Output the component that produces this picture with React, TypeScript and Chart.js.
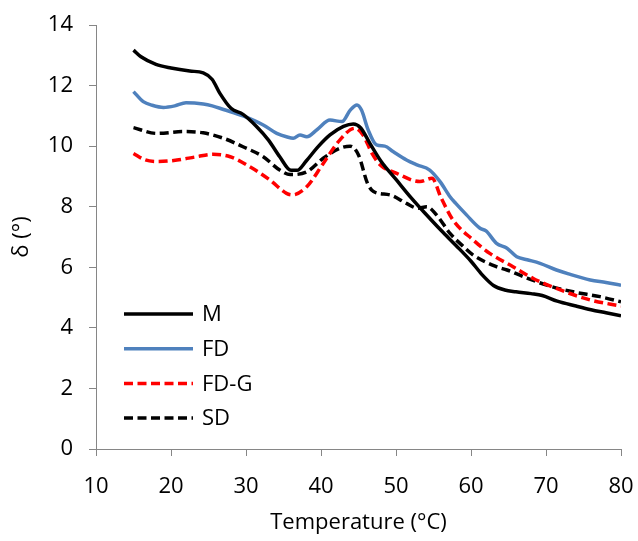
import React, { useEffect, useRef } from "react";
import { Chart, registerables } from "chart.js";

Chart.register(...registerables);

const xTicks = [10, 20, 30, 40, 50, 60, 70, 80];
const yTicks = [0, 2, 4, 6, 8, 10, 12, 14];

const seriesNames = ["M", "FD", "FD-G", "SD"];

const mTemp = [15, 16, 18, 20, 22.5, 24.3, 25.5, 26.5, 28, 29.6, 31.4, 33, 34.5, 36, 36.8, 38, 39.5, 41.2, 43, 44.3, 45.3, 46.5, 48, 50, 52, 54, 56, 58, 60, 61.5, 63, 64.5, 66, 68, 69.5, 71.5, 74, 76, 78, 80];
const mDelta = [13.17, 12.95, 12.7, 12.58, 12.48, 12.42, 12.2, 11.75, 11.25, 11.05, 10.65, 10.2, 9.65, 9.2, 9.2, 9.5, 9.95, 10.37, 10.65, 10.73, 10.6, 10.1, 9.5, 8.9, 8.3, 7.75, 7.22, 6.72, 6.2, 5.75, 5.4, 5.25, 5.19, 5.13, 5.07, 4.88, 4.72, 4.6, 4.5, 4.4];

const fdTemp = [15, 16.3, 17.5, 19, 20.5, 22, 24.3, 25.5, 27, 29.6, 32.3, 34.1, 35.5, 36.3, 37.2, 38.1, 39.5, 41.2, 42.8, 43.9, 44.8, 45.4, 46.3, 47.4, 48.5, 49.6, 51.4, 52.8, 54.5, 55.9, 57.2, 58, 59.4, 61.2, 62, 63.4, 64.8, 66.1, 67.5, 69.2, 71.4, 73, 75.9, 78, 80];
const fdDelta = [11.8, 11.47, 11.35, 11.28, 11.33, 11.43, 11.39, 11.33, 11.21, 11.0, 10.7, 10.42, 10.3, 10.26, 10.37, 10.31, 10.55, 10.86, 10.81, 11.19, 11.36, 11.19, 10.53, 10.04, 10.0, 9.82, 9.54, 9.38, 9.21, 8.82, 8.33, 8.1, 7.73, 7.29, 7.2, 6.79, 6.63, 6.35, 6.25, 6.13, 5.91, 5.78, 5.58, 5.5, 5.41];

const fdgTemp = [15, 16.5, 18.1, 20.8, 23.4, 25.6, 27.9, 30.5, 33.2, 35.4, 36.2, 38.1, 40.3, 42.5, 44.5, 45.6, 46.8, 47.9, 50.1, 53.2, 54.8, 56, 57.6, 60.3, 62.5, 65.6, 68.3, 71.4, 75.9, 80];
const fdgDelta = [9.76, 9.55, 9.49, 9.54, 9.65, 9.73, 9.65, 9.32, 8.88, 8.44, 8.39, 8.66, 9.43, 10.2, 10.59, 10.37, 9.76, 9.38, 9.1, 8.83, 8.94, 8.3, 7.56, 6.9, 6.46, 6.02, 5.63, 5.3, 4.92, 4.72];

const sdTemp = [15, 18.1, 21.6, 24.3, 27, 29.6, 32.3, 34.5, 35.9, 38.1, 40.3, 42.5, 43.9, 45, 46.2, 47, 49.2, 51.4, 52.9, 54.1, 55.4, 57.2, 59, 60.3, 63.4, 64.8, 67, 70.1, 73.6, 77.2, 80];
const sdDelta = [10.61, 10.42, 10.48, 10.44, 10.26, 9.98, 9.65, 9.21, 9.06, 9.15, 9.6, 9.93, 10.0, 9.71, 8.77, 8.5, 8.39, 8.11, 7.95, 8.0, 7.73, 7.12, 6.68, 6.4, 6.02, 5.91, 5.69, 5.41, 5.19, 5.03, 4.86];

const FONT = "'Open Sans', 'Noto Sans', sans-serif";
const FONT_SIZE = 22;
const AXIS_GRAY = "#868686";

const toPoints = (xs: number[], ys: number[]) => xs.map((x, i) => ({ x, y: ys[i] }));

const legendPlugin = {
  id: "insideLegend",
  afterDraw(chart: any) {
    const { ctx, chartArea } = chart;
    ctx.save();
    const x0 = chartArea.left + 28;
    const x1 = chartArea.left + 97;
    const yStart = chartArea.bottom - 135;
    const step = 34.7;
    chart.data.datasets.forEach((ds: any, i: number) => {
      const y = yStart + i * step;
      ctx.beginPath();
      ctx.strokeStyle = ds.borderColor;
      ctx.lineWidth = ds.borderWidth;
      ctx.setLineDash(ds.borderDash || []);
      ctx.lineCap = "butt";
      ctx.moveTo(x0, y);
      ctx.lineTo(x1, y);
      ctx.stroke();
      ctx.setLineDash([]);
      ctx.fillStyle = "#000";
      ctx.font = `${FONT_SIZE}px ${FONT}`;
      ctx.textBaseline = "middle";
      ctx.textAlign = "left";
      ctx.fillText(ds.label, x1 + 9, y + 1);
    });
    ctx.restore();
  },
};

export default function App() {
  const ref = useRef<HTMLCanvasElement | null>(null);
  useEffect(() => {
    document.body.style.margin = "0";
    if (!ref.current) return;
    const dashed = [9, 4.5];
    const chart = new Chart(ref.current, {
      type: "line",
      data: {
        datasets: [
          { label: seriesNames[0], data: toPoints(mTemp, mDelta), borderColor: "#000000", borderWidth: 3.5 },
          { label: seriesNames[1], data: toPoints(fdTemp, fdDelta), borderColor: "#4F81BD", borderWidth: 3.5 },
          { label: seriesNames[2], data: toPoints(fdgTemp, fdgDelta), borderColor: "#FF0000", borderWidth: 3.5, borderDash: dashed },
          { label: seriesNames[3], data: toPoints(sdTemp, sdDelta), borderColor: "#000000", borderWidth: 3.5, borderDash: dashed },
        ].map((d) => ({ ...d, pointRadius: 0, fill: false, cubicInterpolationMode: "monotone" as const, borderCapStyle: "butt" as const })),
      },
      options: {
        responsive: false,
        animation: false,
        layout: { padding: { top: 25, right: 17, left: 0, bottom: 0 } },
        plugins: { legend: { display: false }, tooltip: { enabled: false } },
        scales: {
          x: {
            type: "linear",
            min: xTicks[0],
            max: xTicks[xTicks.length - 1],
            afterBuildTicks: (s: any) => { s.ticks = xTicks.map((v) => ({ value: v })); },
            afterFit: (s: any) => { s.height = 92; s.paddingLeft = 0; s.paddingRight = 0; },
            grid: { drawOnChartArea: false, drawTicks: true, tickLength: 7, color: AXIS_GRAY, lineWidth: 1 },
            border: { display: true, color: AXIS_GRAY, width: 1 },
            ticks: { color: "#000", font: { family: FONT, size: FONT_SIZE }, padding: 18, maxRotation: 0 },
            title: { display: true, text: "Temperature (°C)", color: "#000", font: { family: FONT, size: FONT_SIZE }, padding: { top: 0, bottom: 5 } },
          },
          y: {
            type: "linear",
            min: yTicks[0],
            max: yTicks[yTicks.length - 1],
            afterBuildTicks: (s: any) => { s.ticks = yTicks.map((v) => ({ value: v })); },
            afterFit: (s: any) => { s.width = 96; s.paddingTop = 0; s.paddingBottom = 0; },
            grid: { drawOnChartArea: false, drawTicks: true, tickLength: 7, color: AXIS_GRAY, lineWidth: 1 },
            border: { display: true, color: AXIS_GRAY, width: 1 },
            ticks: { color: "#000", font: { family: FONT, size: FONT_SIZE }, padding: 16 },
            title: { display: true, text: "δ (°)", color: "#000", font: { family: FONT, size: FONT_SIZE }, padding: { top: 9, bottom: 0 } },
          },
        },
      },
      plugins: [legendPlugin],
    });
    return () => chart.destroy();
  }, []);
  return <canvas ref={ref} width={638} height={541} style={{ display: "block" }} />;
}
